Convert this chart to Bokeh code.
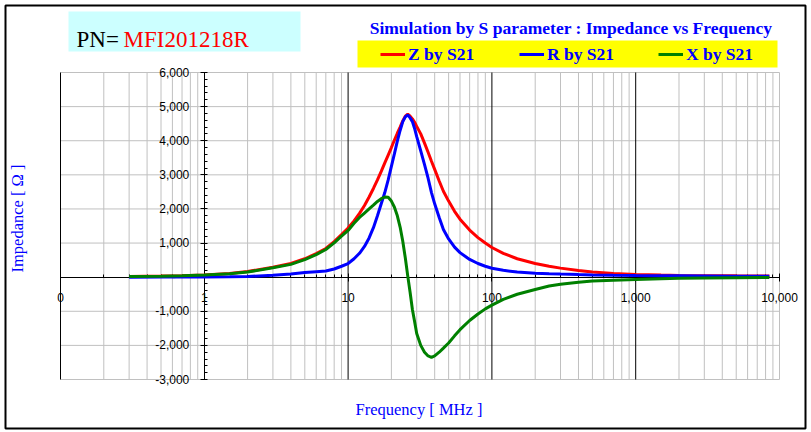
from bokeh.plotting import figure
from bokeh.models import (Range1d, LogAxis, LinearAxis, FixedTicker, CustomJSTickFormatter,
                          Legend, LegendItem, Label, BoxAnnotation, ColumnDataSource)
from bokeh.embed import file_html
from bokeh.resources import INLINE

# ---------------- data ----------------
freq_mhz = [0.3, 0.5, 0.7, 1, 1.5, 2, 3, 4, 5, 6, 7, 8, 9, 10, 11, 12, 13, 14, 15, 16,
            17, 18, 19, 20, 21, 22, 23, 24, 25, 26, 27, 28, 29, 30, 32, 34, 36, 38, 40,
            43, 46, 50, 55, 60, 70, 80, 90, 100, 120, 150, 200, 250, 300, 400, 500, 700,
            1000, 1500, 2000, 3000, 5000, 8500]
z_s21 = [20, 33, 45, 65, 110, 165, 290, 400, 540, 690, 840, 1040, 1250, 1440, 1650, 1870,
         2100, 2350, 2600, 2850, 3100, 3350, 3580, 3800, 4020, 4220, 4400, 4580, 4720, 4780,
         4720, 4640, 4540, 4420, 4200, 3930, 3660, 3400, 3160, 2820, 2520, 2230, 1930, 1700,
         1380, 1160, 1000, 870, 700, 540, 400, 320, 265, 195, 150, 105, 78, 60, 52, 45, 40, 36]
r_s21 = [1, 2, 3, 5, 10, 20, 55, 95, 135, 160, 180, 240, 320, 400, 540, 700, 900, 1150,
         1450, 1800, 2150, 2480, 2850, 3250, 3620, 3990, 4300, 4560, 4700, 4760, 4670, 4560,
         4360, 4120, 3700, 3300, 2900, 2480, 2150, 1750, 1400, 1120, 880, 720, 520, 400, 320,
         260, 200, 150, 115, 100, 90, 75, 65, 55, 48, 42, 38, 34, 30, 28]
x_s21 = [18, 30, 42, 60, 100, 150, 275, 375, 515, 660, 810, 1005, 1200, 1370, 1580, 1750,
         1880, 2000, 2110, 2220, 2300, 2350, 2340, 2230, 2050, 1800, 1470, 1050, 560, 30,
         -450, -950, -1300, -1650, -2000, -2200, -2310, -2350, -2310, -2200, -2080, -1930,
         -1720, -1540, -1270, -1080, -930, -820, -650, -500, -360, -260, -205, -150, -115,
         -88, -65, -45, -35, -25, -18, -12]

series_names = ["Z by S21", "R by S21", "X by S21"]
series_colors = ["#FF0000", "#0000FF", "#008000"]

x_major = [0.1, 1, 10, 100, 1000, 10000]
x_minor = [m * d for d in [0.1, 1, 10, 100, 1000] for m in range(2, 10)]
y_major = list(range(-3000, 6001, 1000))
y_minor = list(range(-3000, 6001, 200))

part_no = "MFI201218R"
title_text = "Simulation by S parameter : Impedance vs Frequency"

# ---------------- layout (page pixels) ----------------
W, H = 811, 432
PL, PR, PT, PB = 60, 779, 72, 379          # plot area edges
dec_px = (PR - PL) / 5.0                    # pixels per decade
val_px = (PB - PT) / 9000.0                 # pixels per ohm
x_lo = 10 ** (-1 - PL / dec_px)
x_hi = 10 ** (4 + (W - PR) / dec_px)
y_hi = 6000 + PT / val_px
y_lo = -3000 - (H - PB) / val_px

p = figure(width=W, height=H, x_axis_type="log", title=None,
           x_range=Range1d(x_lo, x_hi), y_range=Range1d(y_lo, y_hi),
           x_axis_location=None, y_axis_location=None,
           output_backend="svg", toolbar_location=None,
           min_border=0, min_border_left=0, min_border_right=0,
           min_border_top=0, min_border_bottom=0,
           background_fill_color="white", border_fill_color="white",
           outline_line_color=None)
p.grid.visible = False

GRAY = "#C0C0C0"
x0, x1 = x_major[0], x_major[-1]
y0, y1 = y_major[0], y_major[-1]
vg = x_minor + [x_major[-1]]
p.segment(x0=vg, x1=vg, y0=[y0] * len(vg), y1=[y1] * len(vg),
          line_color=GRAY, line_width=1, level="underlay")
hg = [t for t in y_major if t != 0]
p.segment(x0=[x0] * len(hg), x1=[x1] * len(hg), y0=hg, y1=hg,
          line_color=GRAY, line_width=1, level="underlay")
vb = [t for t in x_major[:-1] if t != 1]
p.segment(x0=vb, x1=vb, y0=[y0] * len(vb), y1=[y1] * len(vb),
          line_color="black", line_width=1, level="underlay")

xaxis = LogAxis(fixed_location=0, bounds=(x0, x1),
                ticker=FixedTicker(ticks=x_major, minor_ticks=x_minor),
                formatter=CustomJSTickFormatter(code='if (tick < 0.5) { return "0"; } return Math.round(tick).toLocaleString("en-US");'),
                axis_line_color="black", axis_line_width=1,
                major_tick_line_color="black", minor_tick_line_color="black",
                major_tick_in=4, major_tick_out=4, minor_tick_in=3, minor_tick_out=0,
                major_label_standoff=12,
                major_label_text_font="Liberation Sans", major_label_text_font_size="12px",
                major_label_text_color="black")
p.add_layout(xaxis, "below")

yaxis = LinearAxis(fixed_location=1, bounds=(y0, y1),
                   ticker=FixedTicker(ticks=y_major, minor_ticks=y_minor),
                   formatter=CustomJSTickFormatter(code='if (tick == 0) { return "-\\u00a0\\u00a0\\u00a0\\u00a0"; } return tick.toLocaleString("en-US");'),
                   axis_line_color="black", axis_line_width=1,
                   major_tick_line_color="black", minor_tick_line_color="black",
                   major_tick_in=2, major_tick_out=4, minor_tick_in=3, minor_tick_out=0,
                   major_label_standoff=11,
                   major_label_text_font="Liberation Sans", major_label_text_font_size="12px",
                   major_label_text_color="black")
p.add_layout(yaxis, "left")

src = ColumnDataSource(dict(f=freq_mhz, z=z_s21, r=r_s21, x=x_s21))
renderers = []
for col, color in zip(["z", "r", "x"], series_colors):
    renderers.append(p.line("f", col, source=src, line_color=color, line_width=3,
                            level="annotation"))


# ---------------- annotations (screen units from canvas bottom-left) ----------------
def sbox(l, r, t, b, **kw):
    return BoxAnnotation(left=l, right=r, bottom=H - b, top=H - t,
                         left_units="screen", right_units="screen",
                         bottom_units="screen", top_units="screen", **kw)


def slabel(x, y, text, **kw):
    return Label(x=x, y=H - y, x_units="screen", y_units="screen", text=text, **kw)


# PN box
p.add_layout(sbox(68, 300, 11, 51, fill_color="#CCFFFF", fill_alpha=1, line_color=None))
p.add_layout(slabel(76, 38.5, "PN=", text_font="Liberation Serif", text_font_size="23px",
                    text_color="black", text_baseline="alphabetic"))
p.add_layout(slabel(123, 38.5, part_no, text_font="Liberation Serif", text_font_size="23px",
                    text_color="#FF0000", text_baseline="alphabetic"))

# title
p.add_layout(slabel(570.5, 27.3, title_text, text_font="Liberation Serif",
                    text_font_style="bold", text_font_size="17.5px", text_color="#0000FF",
                    text_align="center", text_baseline="alphabetic"))

# legend background
p.add_layout(sbox(357, 777, 40, 67, fill_color="#FFFF00", fill_alpha=1, line_color=None))

legend = Legend(items=[LegendItem(label=n, renderers=[r]) for n, r in zip(series_names, renderers)],
                orientation="horizontal", location=(380, H - 64.5),
                padding=0, margin=0, spacing=0, glyph_width=25, glyph_height=20,
                label_standoff=3, label_width=111, label_height=20,
                label_text_font="Liberation Serif", label_text_font_style="bold",
                label_text_font_size="17.5px", label_text_color="#0000FF",
                border_line_color=None, background_fill_alpha=0)
p.add_layout(legend, "center")

# axis titles
p.add_layout(slabel(17, 218, "Impedance [ Ω ]", angle=90, angle_units="deg",
                    text_font="Liberation Serif", text_font_size="16.5px", text_color="#0000FF",
                    text_align="center", text_baseline="middle"))
p.add_layout(slabel(418.5, 409, "Frequency [ MHz ]", text_font="Liberation Serif",
                    text_font_size="16.5px", text_color="#0000FF",
                    text_align="center", text_baseline="middle"))

# outer border
p.add_layout(sbox(5, 805, 5, 428, fill_alpha=0, line_color="black", line_alpha=1,
                  line_width=2))

open("out.html", "w").write(file_html(p, INLINE))
